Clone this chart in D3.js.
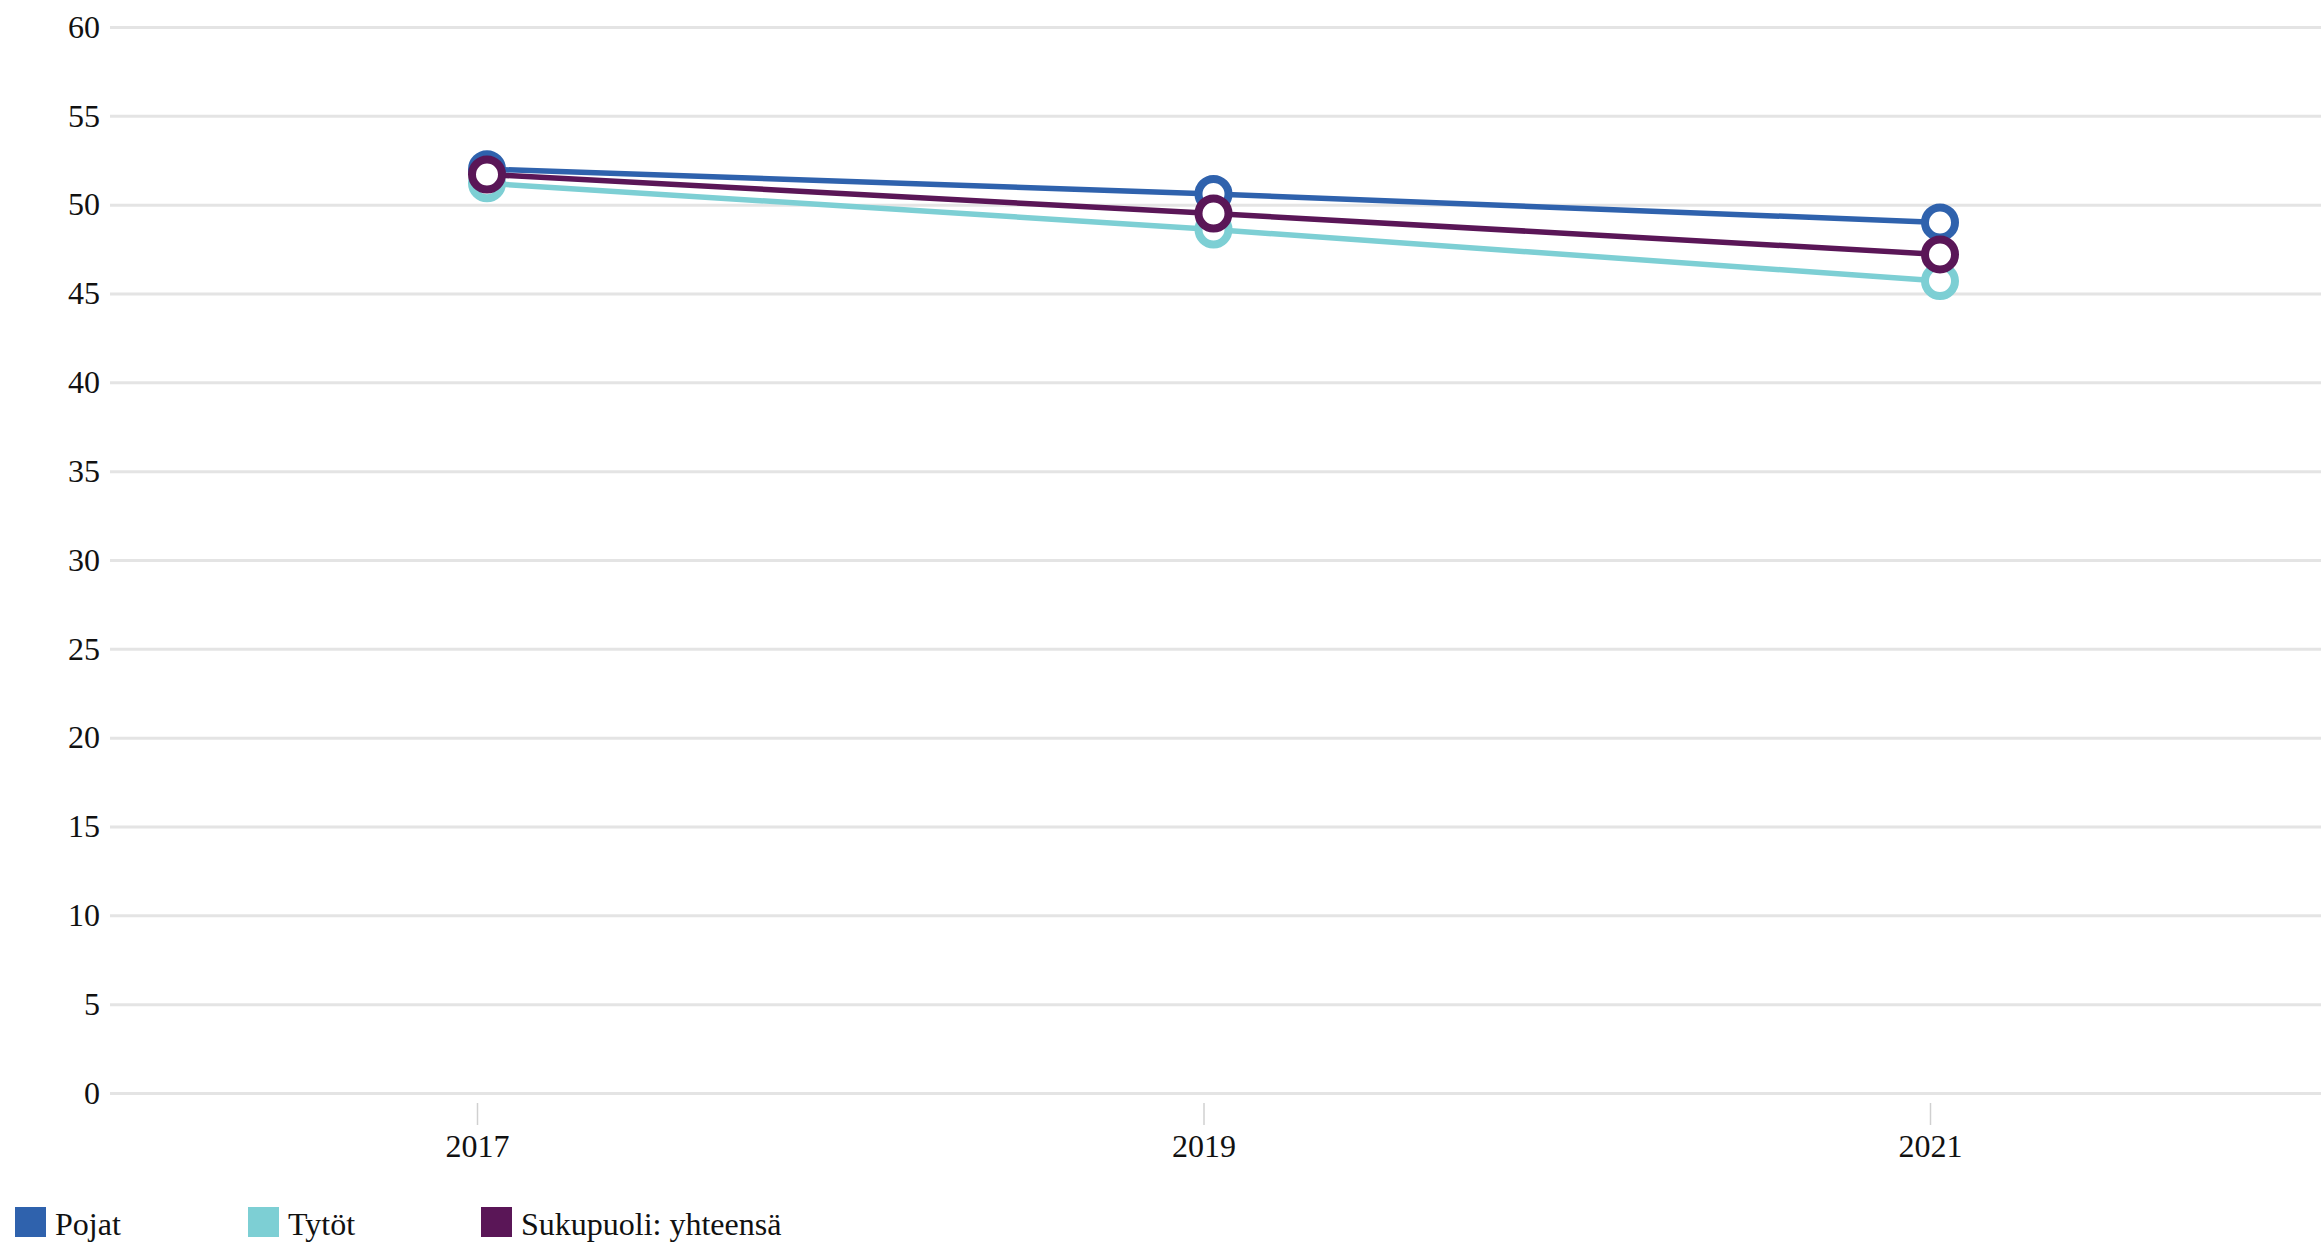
<!DOCTYPE html>
<html>
<head>
    <meta charset="utf-8">
    <script src="https://d3js.org/d3.v7.min.js"></script>
    <style>
        body {
            margin: 0px;
            background: #ffffff;
        }
    </style>
</head>
<body>
    <script type="text/javascript">
        // Data
        var years = ["2017", "2019", "2021"];
        var pojat = [52.0, 50.6, 49.0];
        var tytot = [51.2, 48.6, 45.7];
        var yhteensa = [51.7, 49.5, 47.2];
        var seriesNames = ["Pojat", "Tytöt", "Sukupuoli: yhteensä"];
        var seriesColors = ["#2f62ad", "#7dcfd4", "#5a1657"];
        var yTicks = [0, 5, 10, 15, 20, 25, 30, 35, 40, 45, 50, 55, 60];

        var width = 2321, height = 1245;
        var serif = "'Liberation Serif', 'DejaVu Serif', 'Times New Roman', serif";

        var svg = d3.select("body")
            .append("svg")
            .attr("width", width)
            .attr("height", height);

        var y = d3.scaleLinear()
            .domain([0, 60])
            .range([1093, 27]);

        var x = d3.scalePoint()
            .domain(years)
            .range([477, 1930]);

        // Grid and y labels
        var yAxis = svg.append("g")
            .attr("transform", "translate(110,0)")
            .call(d3.axisLeft(y)
                .tickValues(yTicks)
                .tickSize(-(width - 110))
                .tickPadding(10));
        yAxis.attr("font-family", serif);
        yAxis.select(".domain").remove();
        yAxis.selectAll(".tick line")
            .style("stroke", "#e4e4e4")
            .style("stroke-width", 3);
        yAxis.selectAll(".tick text")
            .style("font-family", serif)
            .style("font-size", "32px")
            .style("fill", "#111");

        // x axis
        var xAxis = svg.append("g")
            .attr("transform", "translate(0,1093)")
            .call(d3.axisBottom(x)
                .tickSize(0)
                .tickPadding(41));
        xAxis.attr("font-family", serif);
        xAxis.select(".domain").remove();
        xAxis.selectAll(".tick line")
            .attr("y1", 10)
            .attr("y2", 32)
            .style("stroke", "#d0d0d0")
            .style("stroke-width", 1.5);
        xAxis.selectAll(".tick text")
            .style("font-family", serif)
            .style("font-size", "32px")
            .style("fill", "#111");

        // Lines and markers
        var series = [pojat, tytot, yhteensa];
        var shift = 10; // markers sit a little right of the tick

        var line = d3.line()
            .x(function(d, i) { return x(years[i]) + shift; })
            .y(function(d) { return y(d); });

        series.forEach(function(values, s) {
            svg.append("path")
                .datum(values)
                .attr("d", line)
                .style("fill", "none")
                .style("stroke", seriesColors[s])
                .style("stroke-width", 5.5);
        });

        series.forEach(function(values, s) {
            svg.selectAll(".dot-" + s)
                .data(values)
                .enter()
                .append("circle")
                .attr("class", "dot-" + s)
                .attr("cx", function(d, i) { return x(years[i]) + shift; })
                .attr("cy", function(d) { return y(d); })
                .attr("r", 15)
                .style("fill", "#ffffff")
                .style("stroke", seriesColors[s])
                .style("stroke-width", 8);
        });

        // Legend
        var legendX = [15, 248, 481];
        var legend = svg.selectAll(".legend")
            .data(seriesNames)
            .enter()
            .append("g")
            .attr("class", "legend")
            .attr("transform", function(d, i) { return "translate(" + legendX[i] + ",1207)"; });

        legend.append("rect")
            .attr("width", 31)
            .attr("height", 30)
            .style("fill", function(d, i) { return seriesColors[i]; });

        legend.append("text")
            .attr("x", 40)
            .attr("y", 28)
            .style("font-family", serif)
            .style("font-size", "32px")
            .style("fill", "#111")
            .text(function(d) { return d; });
    </script>
</body>
</html>
